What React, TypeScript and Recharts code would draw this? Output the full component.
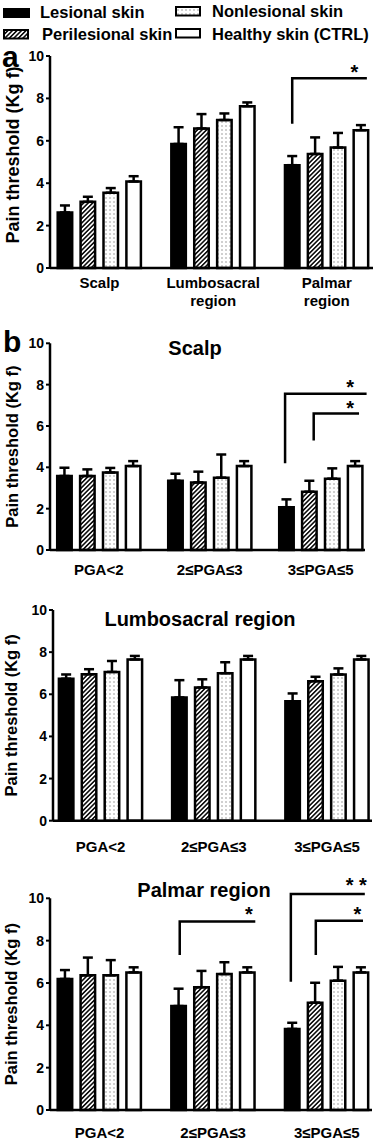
import React from 'react';
import { BarChart, Bar, XAxis, YAxis, ErrorBar } from 'recharts';

const seriesNames = ['Lesional skin', 'Perilesional skin', 'Nonlesional skin', 'Healthy skin (CTRL)'];
const seriesKeys = ['lesional', 'perilesional', 'nonlesional', 'healthy'];

const regionLabels = ['Scalp', 'Lumbosacral region', 'Palmar region'];
const pgaLabels = ['PGA<2', '2≤PGA≤3', '3≤PGA≤5'];
const yTicks = [0, 2, 4, 6, 8, 10];

// means and SEM, one row per group, columns in series order
const regionMeans = [[2.62, 3.12, 3.55, 4.08], [5.85, 6.58, 6.98, 7.63], [4.85, 5.38, 5.68, 6.5]];
const regionSems = [[0.33, 0.24, 0.22, 0.25], [0.79, 0.68, 0.31, 0.18], [0.43, 0.78, 0.69, 0.24]];

const scalpMeans = [[3.58, 3.58, 3.75, 4.06], [3.35, 3.27, 3.5, 4.06], [2.07, 2.82, 3.45, 4.06]];
const scalpSems = [[0.4, 0.32, 0.22, 0.24], [0.34, 0.52, 1.12, 0.24], [0.38, 0.53, 0.5, 0.24]];

const lumboMeans = [[6.74, 6.95, 7.06, 7.65], [5.85, 6.32, 7.0, 7.65], [5.67, 6.62, 6.94, 7.65]];
const lumboSems = [[0.2, 0.24, 0.52, 0.17], [0.82, 0.39, 0.52, 0.17], [0.37, 0.21, 0.29, 0.17]];

const palmarMeans = [[6.19, 6.36, 6.36, 6.5], [4.91, 5.8, 6.42, 6.5], [3.83, 5.07, 6.11, 6.5]];
const palmarSems = [[0.42, 0.84, 0.72, 0.24], [0.82, 0.77, 0.56, 0.24], [0.29, 0.94, 0.65, 0.24]];

// significance brackets: group index, x in bar slots from the lesional bar, y in Kg f
const regionBrackets = [{ group: 2, x1: 0, x2: 3.26, y1: 6.8, y2: 8.95 }];
const regionStars = [{ group: 2, x: 2.72, y: 9.43, text: '*' }];
const scalpBrackets = [
  { group: 2, x1: -0.06, x2: 3.5, y1: 4.2, y2: 7.56 },
  { group: 2, x1: 1.19, x2: 3.17, y1: 5.3, y2: 6.6 },
];
const scalpStars = [{ group: 2, x: 2.78, y: 8.06, text: '*' }, { group: 2, x: 2.78, y: 7.05, text: '*' }];
const palmarBrackets = [
  { group: 1, x1: 0.05, x2: 3.35, y1: 7.32, y2: 8.9 },
  { group: 2, x1: -0.06, x2: 3.17, y1: 6.06, y2: 10.2 },
  { group: 2, x1: 1.03, x2: 3.09, y1: 7.32, y2: 8.94 },
];
const palmarStars = [
  { group: 1, x: 3.07, y: 9.44, text: '*' },
  { group: 2, x: 2.85, y: 9.44, text: '*' },
  { group: 2, x: 2.8, y: 10.82, text: '* *' },
];

type Bracket = { group: number; x1: number; x2: number; y1: number; y2: number };
type Star = { group: number; x: number; y: number; text: string };

const buildRows = (labels: string[], means: number[][], sems: number[][]) =>
  labels.map((name, g) => {
    const row: any = { name };
    seriesKeys.forEach((k, s) => {
      row[k] = means[g][s];
      row[k + 'Err'] = [0, sems[g][s]];
    });
    return row;
  });

const FONT = '"Liberation Sans", Arial, sans-serif';
const BAR_SIZE = 14.5;
const BAR_GAP = 8.4;

const patternDefs = (id: string) => (
  <defs>
    <pattern id={`hatch-${id}`} patternUnits="userSpaceOnUse" width={3.2} height={3.2} patternTransform="rotate(45)">
      <rect width={3.2} height={3.2} fill="#fff" />
      <line x1={1.6} y1={0} x2={1.6} y2={3.2} stroke="#000" strokeWidth={1.5} />
    </pattern>
    <pattern id={`dots-${id}`} patternUnits="userSpaceOnUse" width={4} height={4}>
      <rect width={4} height={4} fill="#fff" />
      <rect x={1.5} y={1.5} width={1} height={1} fill="#444" />
    </pattern>
  </defs>
);

const fillsFor = (id: string) => ['#000', `url(#hatch-${id})`, `url(#dots-${id})`, '#fff'];

// drawn as the label of the lesional bar, so positions come from that bar's rectangle
const markRenderer = (brackets: Bracket[], stars: Star[]) => (props: any) => {
  const vb = props.viewBox || {};
  const x = props.x ?? vb.x;
  const y = props.y ?? vb.y;
  const width = props.width ?? vb.width;
  const height = props.height ?? vb.height;
  const value = Number(props.value);
  const bs = brackets.filter((b) => b.group === props.index);
  const ss = stars.filter((s) => s.group === props.index);
  if ((!bs.length && !ss.length) || !value) return <g />;
  const pitch = BAR_SIZE + BAR_GAP;
  const base = y + height;
  const k = height / value;
  const px = (u: number) => x + width / 2 + u * pitch;
  const py = (v: number) => base - v * k;
  return (
    <g>
      {bs.map((b, i) => (
        <polyline
          key={`b${i}`}
          points={`${px(b.x1)},${py(b.y1)} ${px(b.x1)},${py(b.y2)} ${px(b.x2)},${py(b.y2)}`}
          fill="none"
          stroke="#000"
          strokeWidth={2.5}
        />
      ))}
      {ss.map((s, i) => (
        <text key={`s${i}`} x={px(s.x)} y={py(s.y) + 11} textAnchor="middle" fontSize={20} fontWeight="bold" fill="#000" fontFamily={FONT}>
          {s.text}
        </text>
      ))}
    </g>
  );
};

const CategoryTick = (props: any) => {
  const { x, y, payload, dy1, dy2 } = props;
  const words = String(payload.value).split(' ');
  const lines = words.length > 1 ? [words[0], words.slice(1).join(' ')] : words;
  return (
    <text x={x} y={y} textAnchor="middle" fontSize={15} fontWeight="bold" fill="#000" fontFamily={FONT}>
      {lines.map((l, i) => (
        <tspan key={i} x={x} dy={i === 0 ? dy1 : dy2 - dy1}>
          {l}
        </tspan>
      ))}
    </text>
  );
};

interface PanelProps {
  id: string;
  labels: string[];
  means: number[][];
  sems: number[][];
  brackets?: Bracket[];
  stars?: Star[];
  top: number;
  height: number;
  axisX: number;
  right: number;
  plotTop: number;
  axisY: number;
  padL: number;
  padR: number;
  dy1: number;
  dy2: number;
  labelSize: number;
  labelOffset: number;
  labelDy: number;
}

const Panel = (p: PanelProps) => {
  const data = buildRows(p.labels, p.means, p.sems);
  const fills = fillsFor(p.id);
  const marks = markRenderer(p.brackets || [], p.stars || []);
  return (
    <div style={{ position: 'absolute', left: 0, top: p.top }}>
      <BarChart
        width={376}
        height={p.height}
        data={data}
        margin={{ top: p.plotTop - p.top, right: 376 - p.right, left: 0, bottom: 0 }}
        barSize={BAR_SIZE}
        barGap={BAR_GAP}
      >
        {patternDefs(p.id)}
        <XAxis
          dataKey="name"
          height={p.top + p.height - p.axisY}
          padding={{ left: p.padL, right: p.padR }}
          axisLine={{ stroke: '#000', strokeWidth: 2.5 }}
          tickLine={false}
          tickSize={0}
          tickMargin={0}
          interval={0}
          tick={(t: any) => <CategoryTick {...t} dy1={p.dy1} dy2={p.dy2} />}
        />
        <YAxis
          width={p.axisX}
          domain={[0, 10]}
          ticks={yTicks}
          interval={0}
          axisLine={{ stroke: '#000', strokeWidth: 2.5 }}
          tickLine={{ stroke: '#000', strokeWidth: 2 }}
          tickSize={4}
          tickMargin={2}
          tick={{ fontSize: 14, fontWeight: 'bold', fill: '#000', fontFamily: FONT }}
          label={{
            value: 'Pain threshold (Kg f)',
            angle: -90,
            position: 'insideLeft',
            offset: p.labelOffset,
            dy: p.labelDy,
            fontSize: p.labelSize,
            fontWeight: 'bold',
            fill: '#000',
            fontFamily: FONT,
            style: { textAnchor: 'middle' },
          }}
        />
        {seriesKeys.map((k, s) => (
          <Bar
            key={k}
            dataKey={k}
            name={seriesNames[s]}
            fill={fills[s]}
            stroke="#000"
            strokeWidth={2.5}
            isAnimationActive={false}
            label={s === 0 ? marks : undefined}
          >
            <ErrorBar dataKey={k + 'Err'} direction="y" width={5} stroke="#000" strokeWidth={2.5} />
          </Bar>
        ))}
      </BarChart>
    </div>
  );
};

const Overlay = () => {
  const legendFills = fillsFor('lg');
  const legendPos = [
    { sx: 3, sy: 8, tx: 40, ty: 18 },
    { sx: 4, sy: 30, tx: 42, ty: 39.5 },
    { sx: 176, sy: 7, tx: 212, ty: 17 },
    { sx: 176, sy: 29, tx: 212, ty: 39.5 },
  ];
  return (
    <svg width={376} height={1140} style={{ position: 'absolute', left: 0, top: 0, pointerEvents: 'none' }} fontFamily={FONT}>
      {patternDefs('lg')}
      {seriesNames.map((n, i) => (
        <g key={n}>
          <rect
            x={legendPos[i].sx}
            y={legendPos[i].sy}
            width={i === 0 ? 27 : 24}
            height={i === 0 ? 10 : 8.5}
            fill={legendFills[i]}
            stroke="#000"
            strokeWidth={i === 0 ? 0 : 2}
          />
          <text x={legendPos[i].tx} y={legendPos[i].ty} fontSize={16.5} fontWeight="bold" fill="#000">
            {n}
          </text>
        </g>
      ))}
      <text x={2} y={67} fontSize={30} fontWeight="bold" fill="#000">a</text>
      <text x={3} y={352} fontSize={30} fontWeight="bold" fill="#000">b</text>
      <text x={195} y={355} fontSize={20} fontWeight="bold" fill="#000" textAnchor="middle">Scalp</text>
      <text x={200} y={626} fontSize={20} fontWeight="bold" fill="#000" textAnchor="middle">Lumbosacral region</text>
      <text x={204} y={897} fontSize={20} fontWeight="bold" fill="#000" textAnchor="middle">Palmar region</text>
    </svg>
  );
};

export default function App() {
  return (
    <div style={{ position: 'absolute', left: 0, top: 0, width: 376, height: 1140, background: '#fff', overflow: 'hidden', fontFamily: FONT }}>
      <Panel
        id="a" labels={regionLabels} means={regionMeans} sems={regionSems}
        brackets={regionBrackets} stars={regionStars}
        top={40} height={275} axisX={50} right={373} plotTop={56} axisY={268}
        padL={-7.3} padR={-10.6} dy1={20} dy2={38} labelSize={18} labelOffset={13} labelDy={-7}
      />
      <Panel
        id="bs" labels={pgaLabels} means={scalpMeans} sems={scalpSems}
        brackets={scalpBrackets} stars={scalpStars}
        top={318} height={267} axisX={50} right={365} plotTop={343.3} axisY={550}
        padL={-6.8} padR={-11.2} dy1={25} dy2={43} labelSize={16.5} labelOffset={12} labelDy={0}
      />
      <Panel
        id="bl" labels={pgaLabels} means={lumboMeans} sems={lumboSems}
        top={588} height={277} axisX={53} right={372} plotTop={610} axisY={820.7}
        padL={-9.1} padR={-11.6} dy1={31} dy2={49} labelSize={16.5} labelOffset={11.5} labelDy={0}
      />
      <Panel
        id="bp" labels={pgaLabels} means={palmarMeans} sems={palmarSems}
        brackets={palmarBrackets} stars={palmarStars}
        top={866} height={274} axisX={50} right={372} plotTop={898.3} axisY={1110}
        padL={-7.3} padR={-11.6} dy1={28} dy2={46} labelSize={16.5} labelOffset={11.5} labelDy={0}
      />
      <Overlay />
    </div>
  );
}
